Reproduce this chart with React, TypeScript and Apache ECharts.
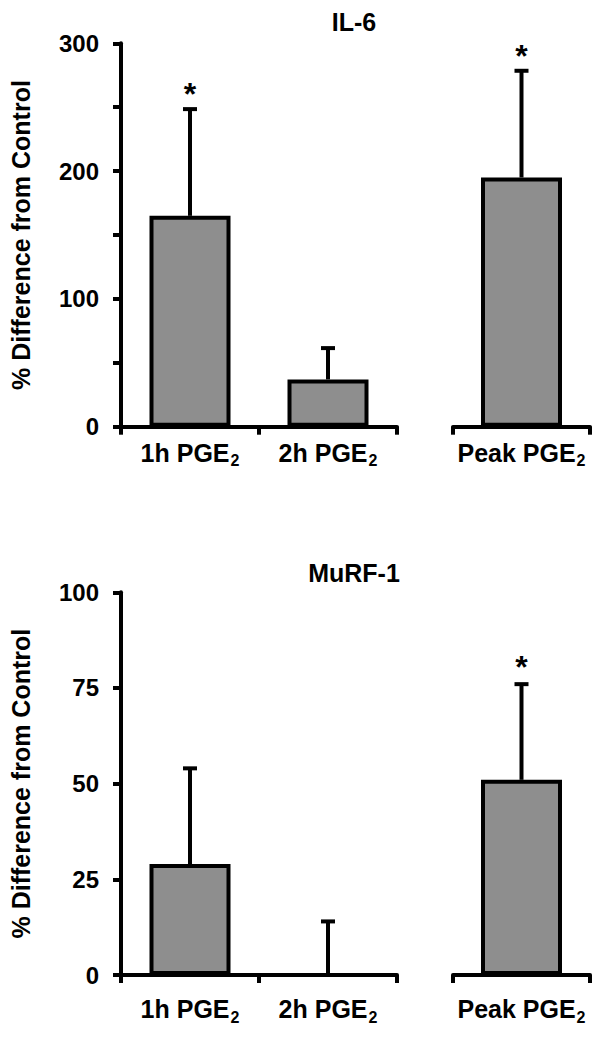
import React, { useEffect, useRef } from "react";
import * as echarts from "echarts";

// ---- data ----
const groupA = ["1h PGE₂", "2h PGE₂"];
const groupB = ["Peak PGE₂"];

const il6Means = [165, 37, 195];
const il6Sem = [83.5, 24.5, 83.5];
const il6Sig = [1, 0, 1];

const murfMeans = [29, 0, 51];
const murfSem = [25, 14, 25];
const murfSig = [0, 0, 1];

const il6Ticks = { min: 0, max: 300, interval: 50, labelEvery: 100 };
const murfTicks = { min: 0, max: 100, interval: 25, labelEvery: 25 };

const titles = ["IL-6", "MuRF-1"];
const yName = "% Difference from Control";

const FONT = 'Arial, "Liberation Sans", Helvetica, sans-serif';

export default function App() {
  const ref = useRef<HTMLDivElement>(null);

  useEffect(() => {
    if (!ref.current) return;
    const chart = echarts.init(ref.current, null, { renderer: "svg" });

    const gridX = [
      { left: 121, width: 276 },
      { left: 453, width: 137 },
    ];
    const panels = [
      { top: 43.3, height: 383.4, means: il6Means, sem: il6Sem, sig: il6Sig, ticks: il6Ticks, title: titles[0], titleY: 22, labelMargin: 10, starGap: 15 },
      { top: 592.3, height: 382.7, means: murfMeans, sem: murfSem, sig: murfSig, ticks: murfTicks, title: titles[1], titleY: 573, labelMargin: 18, starGap: 17 },
    ];

    const grids: any[] = [];
    const xAxes: any[] = [];
    const yAxes: any[] = [];
    const series: any[] = [];

    const catLabel = (margin: number) => ({
      margin,
      formatter: (v: string) => `{m|${v.replace("₂", "")}}{s|2}`,
      rich: {
        m: { fontSize: 25, fontWeight: "bold", fontFamily: FONT, color: "#000" },
        s: { fontSize: 16, fontWeight: "bold", fontFamily: FONT, color: "#000", padding: [16, 0, 0, 1] },
      },
    });

    const makeErrRender = (starGap: number) => (params: any, api: any) => {
      const x = api.value(0);
      const lo = api.value(1);
      const hi = api.value(2);
      const sig = api.value(3);
      const p0 = api.coord([x, lo]);
      const p1 = api.coord([x, hi]);
      const children: any[] = [
        { type: "line", shape: { x1: p0[0], y1: p0[1], x2: p1[0], y2: p1[1] }, style: { stroke: "#000", lineWidth: 4 } },
        { type: "line", shape: { x1: p1[0] - 7, y1: p1[1], x2: p1[0] + 7, y2: p1[1] }, style: { stroke: "#000", lineWidth: 4 } },
      ];
      if (sig) {
        children.push({
          type: "text",
          x: p1[0],
          y: p1[1] - starGap,
          style: { text: "*", fontSize: 32, fontWeight: "bold", fontFamily: FONT, fill: "#000", align: "center", verticalAlign: "middle" },
        });
      }
      return { type: "group", children };
    };

    panels.forEach((p, pi) => {
      gridX.forEach((g, gi) => {
        const idx = pi * 2 + gi;
        grids.push({ left: g.left, width: g.width, top: p.top, height: p.height, containLabel: false });
        const cats = gi === 0 ? groupA : groupB;
        xAxes.push({
          type: "category",
          gridIndex: idx,
          data: cats,
          boundaryGap: true,
          axisLine: { show: true, lineStyle: { color: "#000", width: 4 } },
          axisTick: { show: true, length: 8, lineStyle: { color: "#000", width: 4 } },
          axisLabel: catLabel(p.labelMargin),
          splitLine: { show: false },
        });
        yAxes.push({
          type: "value",
          gridIndex: idx,
          min: p.ticks.min,
          max: p.ticks.max,
          interval: p.ticks.interval,
          show: gi === 0,
          name: gi === 0 ? yName : "",
          nameLocation: "middle",
          nameRotate: 90,
          nameGap: 88,
          nameTextStyle: { fontSize: 25, fontWeight: "bold", fontFamily: FONT, color: "#000" },
          axisLine: { show: true, lineStyle: { color: "#000", width: 4 } },
          axisTick: { show: true, length: 8, lineStyle: { color: "#000", width: 4 } },
          axisLabel: {
            margin: 22,
            fontSize: 24,
            fontWeight: "bold",
            fontFamily: FONT,
            color: "#000",
            formatter: (v: number) => (v % p.ticks.labelEvery === 0 ? String(v) : ""),
          },
          splitLine: { show: false },
        });
        const start = gi === 0 ? 0 : groupA.length;
        const n = cats.length;
        const vals = p.means.slice(start, start + n);
        series.push({
          type: "bar",
          xAxisIndex: idx,
          yAxisIndex: idx,
          data: vals,
          barWidth: 81,
          itemStyle: { color: "#8e8e8e", borderColor: "#000", borderWidth: 4 },
          z: 2,
        });
        series.push({
          type: "custom",
          xAxisIndex: idx,
          yAxisIndex: idx,
          data: vals.map((v, i) => [i, v, v + p.sem[start + i], p.sig[start + i]]),
          renderItem: makeErrRender(p.starGap),
          z: 3,
        });
      });
    });

    const graphic = panels.map((p) => ({
      type: "text",
      x: 354,
      y: p.titleY,
      style: {
        text: p.title,
        fontSize: 25,
        fontWeight: "bold",
        fontFamily: FONT,
        fill: "#000",
        align: "center",
        verticalAlign: "middle",
      },
    }));

    chart.setOption({
      animation: false,
      backgroundColor: "#fff",
      grid: grids,
      xAxis: xAxes,
      yAxis: yAxes,
      series,
      graphic,
    });

    return () => chart.dispose();
  }, []);

  return (
    <div
      ref={ref}
      style={{ position: "absolute", left: 0, top: 0, width: 602, height: 1038, background: "#fff" }}
    />
  );
}
